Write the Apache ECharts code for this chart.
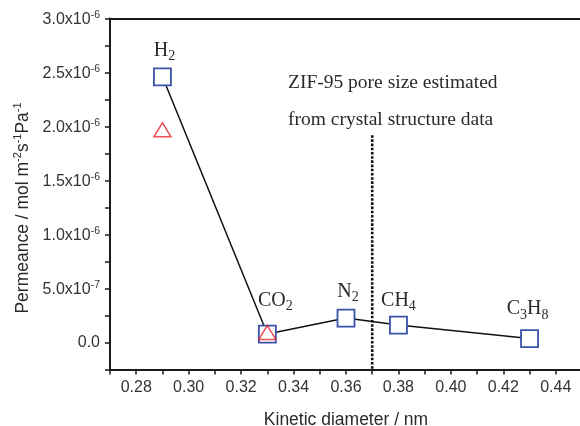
<!DOCTYPE html>
<html>
<head>
<meta charset="utf-8">
<script src="https://cdn.jsdelivr.net/npm/echarts@6/dist/echarts.min.js"></script>
<style>
html,body{margin:0;padding:0;background:#fff;}
#chart{width:580px;height:426px;}
</style>
</head>
<body>
<div id="chart"></div>
<script>
// ---- data ----
const diameters = [0.29, 0.33, 0.36, 0.38, 0.43];
const gasLabels = ['{n|H}{s|2}', '{n|CO}{s|2}', '{n|N}{s|2}', '{n|CH}{s|4}', '{n|C}{s|3}{n|H}{s|8}'];
const permeance = [2.46e-6, 0.078e-6, 0.226e-6, 0.161e-6, 0.036e-6];
const singleDiameters = [0.29, 0.33];
const singlePermeance = [1.97e-6, 0.093e-6];
const poreSize = 0.37;
const poreLineTop = 1.92e-6;
const xRange = [0.27, 0.45];
const xStep = 0.01;
const yRange = [-0.25e-6, 3.0e-6];
const yStep = 0.25e-6;
const annotation = ['ZIF-95 pore size estimated', 'from crystal structure data'];
const xTitle = 'Kinetic diameter / nm';
const yTitle = '{a|Permeance / mol m}{b|-2}{a|s}{b|-1}{a|Pa}{b|-1}';

// per-label nudges (layout only)
const labelOffsets = [[2, 2], [8, -5], [2, 2], [0, 4], [-2, -1]];

const SANS = '"Liberation Sans", Arial, sans-serif';
const SERIF = '"Liberation Serif", "Times New Roman", serif';

const chart = echarts.init(document.getElementById('chart'), null, {renderer: 'canvas'});

const gasRich = {
  n: {fontFamily: SERIF, fontSize: 20, color: '#2a2a2a', verticalAlign: 'bottom', padding: [0, 0, 3, 0]},
  s: {fontFamily: SERIF, fontSize: 14, color: '#2a2a2a', verticalAlign: 'bottom'}
};

const mainData = diameters.map((d, i) => ({
  value: [d, permeance[i]],
  label: {
    show: true,
    position: 'top',
    distance: 6,
    offset: labelOffsets[i],
    formatter: gasLabels[i],
    rich: gasRich
  }
}));

const option = {
  animation: false,
  backgroundColor: '#fff',
  grid: {left: 110, top: 18.5, width: 472, height: 351, containLabel: false, outerBoundsMode: 'none'},
  xAxis: [{
    type: 'value',
    min: xRange[0], max: xRange[1], interval: xStep,
    position: 'bottom',
    name: xTitle,
    nameLocation: 'middle',
    nameGap: 42,
    nameTextStyle: {fontFamily: SANS, fontSize: 17.5, color: '#2a2a2a'},
    axisLine: {show: true, onZero: false, lineStyle: {color: '#1a1a1a', width: 2}},
    axisTick: {show: true, inside: false, length: 5, lineStyle: {color: '#1a1a1a', width: 1.5}},
    axisLabel: {
      show: true, margin: 10,
      fontFamily: SANS, fontSize: 16, color: '#333',
      formatter: function (v) {
        const k = Math.round(v * 100);
        if (k % 2 !== 0) return '';
        if (Math.abs(v - xRange[0]) < 1e-9 || Math.abs(v - xRange[1]) < 1e-9) return '';
        return v.toFixed(2);
      }
    },
    splitLine: {show: false}
  }, {
    type: 'value',
    min: xRange[0], max: xRange[1],
    position: 'top',
    axisLine: {show: true, onZero: false, lineStyle: {color: '#1a1a1a', width: 2}},
    axisTick: {show: false},
    axisLabel: {show: false},
    splitLine: {show: false}
  }],
  yAxis: {
    type: 'value',
    min: yRange[0], max: yRange[1], interval: yStep,
    name: yTitle,
    nameLocation: 'middle',
    nameGap: 76,
    nameTextStyle: {
      padding: [0, 28, 0, 0],
      rich: {
        a: {fontFamily: SANS, fontSize: 17.5, color: '#2a2a2a', verticalAlign: 'bottom'},
        b: {fontFamily: SANS, fontSize: 11, color: '#2a2a2a', verticalAlign: 'bottom', padding: [0, 0, 8, 0]}
      }
    },
    axisLine: {show: true, onZero: false, lineStyle: {color: '#1a1a1a', width: 2}},
    axisTick: {show: true, inside: false, length: 5, lineStyle: {color: '#1a1a1a', width: 1.5}},
    axisLabel: {
      show: true, margin: 10,
      formatter: function (v) {
        const k = Math.round(v / yStep);
        if (k < 0 || k % 2 !== 0) return '';
        if (k === 0) return '{a|0.0}';
        const e = Math.floor(Math.log10(v) + 1e-9);
        const m = (v / Math.pow(10, e)).toFixed(1);
        return '{a|' + m + 'x10}{b|' + e + '}';
      },
      rich: {
        a: {fontFamily: SANS, fontSize: 16, color: '#333', verticalAlign: 'bottom'},
        b: {fontFamily: SANS, fontSize: 10.5, color: '#333', verticalAlign: 'bottom', padding: [0, 0, 7, 0]}
      }
    },
    splitLine: {show: false}
  },
  graphic: [{
    type: 'text',
    left: 288,
    top: 64,
    style: {
      text: annotation.join('\n'),
      font: '19.5px ' + SERIF,
      lineHeight: 37,
      fill: '#2a2a2a'
    },
    z: 10
  }],
  series: [{
    type: 'line',
    data: [[poreSize, poreLineTop], [poreSize, yRange[0]]],
    symbol: 'none',
    lineStyle: {color: '#111', width: 2.6, type: [2.6, 1.6]},
    z: 1,
    silent: true
  }, {
    type: 'line',
    data: mainData,
    symbol: 'rect',
    symbolSize: 17,
    lineStyle: {color: '#111', width: 1.5},
    itemStyle: {color: '#fff', borderColor: '#3a52a8', borderWidth: 1.8},
    z: 3
  }, {
    type: 'scatter',
    data: singleDiameters.map((d, i) => [d, singlePermeance[i]]),
    symbol: 'triangle',
    symbolSize: [17, 14],
    itemStyle: {color: 'rgba(0,0,0,0)', borderColor: '#e8262a', borderWidth: 1.5},
    z: 4
  }]
};
chart.setOption(option);
</script>
</body>
</html>
